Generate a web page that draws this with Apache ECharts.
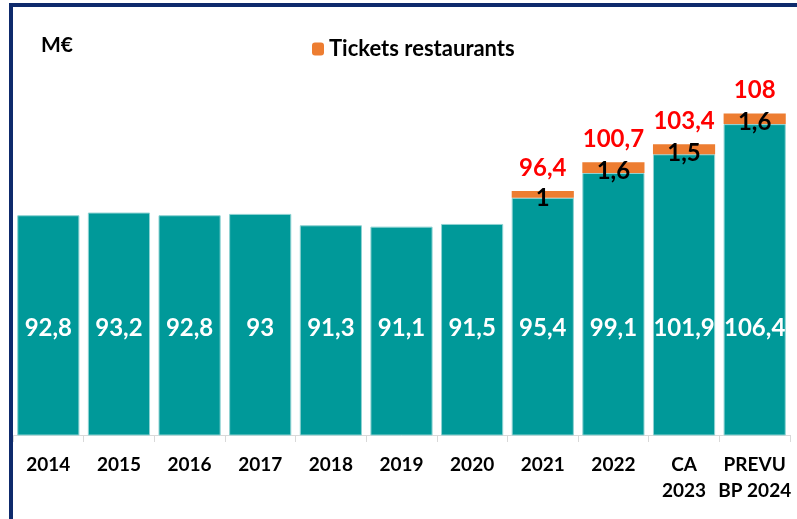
<!DOCTYPE html>
<html>
<head>
<meta charset="utf-8">
<script src="https://cdn.jsdelivr.net/npm/echarts@6/dist/echarts.min.js"></script>
<style>
  html, body { margin: 0; padding: 0; background: #fff; }
  #chart { width: 797px; height: 519px; }
</style>
</head>
<body>
<div id="chart"></div>
<script>
// categories
const categories = ['2014', '2015', '2016', '2017', '2018', '2019', '2020', '2021', '2022', 'CA\n2023', 'PREVU\nBP 2024'];
// masse salariale hors tickets (M€)
const baseValues = [92.8, 93.2, 92.8, 93, 91.3, 91.1, 91.5, 95.4, 99.1, 101.9, 106.4];
// tickets restaurants
const ticketValues = [null, null, null, null, null, null, null, 1, 1.6, 1.5, 1.6];
// totaux affichés en rouge
const totalValues = [null, null, null, null, null, null, null, 96.4, 100.7, 103.4, 108];

const FONT = 'Lato';
const fmt = (v) => String(v).replace('.', ',');

const chart = echarts.init(document.getElementById('chart'));

const option = {
  animation: false,
  textStyle: { fontFamily: FONT },
  title: {
    text: 'M€',
    left: 36,
    top: 30,
    textStyle: { fontFamily: FONT, fontSize: 21, fontWeight: 'bold', color: '#000' },
  },
  legend: {
    data: ['Tickets restaurants'],
    left: 307,
    top: 33,
    itemWidth: 12,
    itemHeight: 13,
    itemGap: 6,
    selectedMode: false,
    textStyle: { fontFamily: FONT, fontSize: 22, fontWeight: 'bold', color: '#000' },
  },
  grid: { left: 13, right: 7, top: 100, bottom: 84 },
  xAxis: {
    type: 'category',
    data: categories,
    axisLine: { lineStyle: { color: '#D9D9D9', width: 1 } },
    axisTick: { show: true, length: 7, lineStyle: { color: '#D9D9D9' } },
    axisLabel: {
      color: '#000',
      fontFamily: FONT,
      fontWeight: 'bold',
      fontSize: 19,
      lineHeight: 26,
      margin: 17,
      interval: 0,
    },
  },
  yAxis: {
    type: 'value',
    min: 60,
    max: 110,
    show: false,
    splitLine: { show: false },
  },
  graphic: [
    {
      type: 'rect',
      shape: { x: 11, y: 5, width: 820, height: 540 },
      style: { fill: 'none', stroke: '#0E2A6C', lineWidth: 4 },
      z: 100,
    },
  ],
  series: [
    {
      name: 'Base',
      type: 'bar',
      stack: 'total',
      data: baseValues,
      barCategoryGap: '12%',
      itemStyle: { color: '#009999', borderColor: '#8fd3d3', borderWidth: 1 },
      label: {
        show: true,
        position: 'insideBottom',
        distance: 95,
        color: '#fff',
        fontFamily: FONT,
        fontWeight: 'bold',
        fontSize: 24,
        formatter: (p) => fmt(p.value),
      },
    },
    {
      name: 'Tickets restaurants',
      type: 'bar',
      stack: 'total',
      data: ticketValues,
      itemStyle: { color: '#ED7D31' },
      label: {
        show: true,
        position: 'inside',
        offset: [0, 4],
        color: '#000',
        fontFamily: FONT,
        fontWeight: 'bold',
        fontSize: 24,
        formatter: (p) => fmt(p.value),
      },
    },
    {
      name: 'Total',
      type: 'bar',
      stack: 'total',
      data: totalValues.map((v) => (v == null ? null : 0)),
      itemStyle: { color: 'transparent' },
      label: {
        show: true,
        position: 'top',
        distance: 11,
        color: '#FF0000',
        fontFamily: FONT,
        fontWeight: 'bold',
        fontSize: 24,
        formatter: (p) => (totalValues[p.dataIndex] == null ? '' : fmt(totalValues[p.dataIndex])),
      },
    },
  ],
};

chart.setOption(option);
</script>
</body>
</html>
